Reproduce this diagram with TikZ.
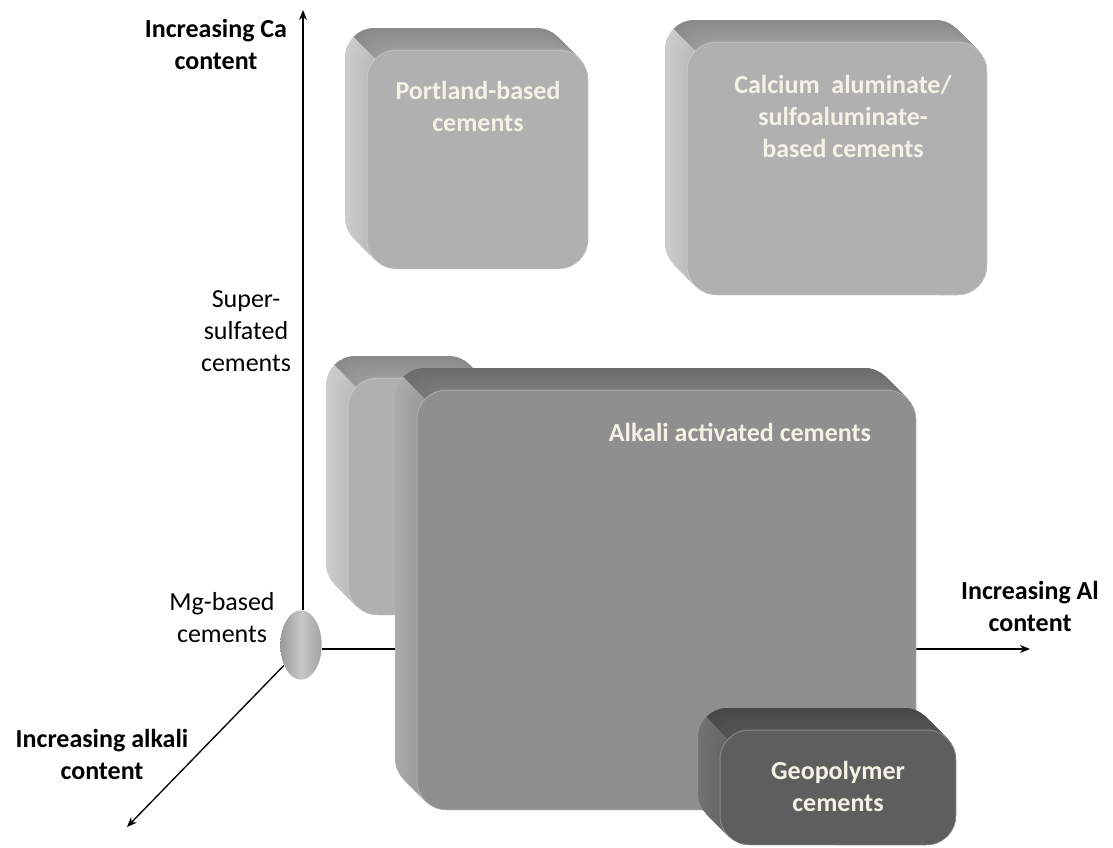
\documentclass[tikz,border=0pt]{standalone}
\usepackage{fontspec}
\setmainfont{Carlito}
\usetikzlibrary{arrows.meta,backgrounds,shapes.geometric}

% face / side colours of the blocks
\definecolor{portF}{HTML}{B0B0B0}
\definecolor{portL}{HTML}{CDCDCD}
\definecolor{portLl}{HTML}{BCBCBC}
\definecolor{portT}{HTML}{8A8A8A}
\definecolor{portTl}{HTML}{9C9C9C}
\definecolor{alkF}{HTML}{8F8F8F}
\definecolor{alkL}{HTML}{ABABAB}
\definecolor{alkLl}{HTML}{9B9B9B}
\definecolor{alkT}{HTML}{6C6C6C}
\definecolor{alkTl}{HTML}{7A7A7A}
\definecolor{geoF}{HTML}{5E5E5E}
\definecolor{geoL}{HTML}{727272}
\definecolor{geoLl}{HTML}{666666}
\definecolor{geoT}{HTML}{484848}
\definecolor{geoTl}{HTML}{545454}
\definecolor{labeltext}{HTML}{F4F2E6}

\tikzset{every picture/.style={line width=0.75pt}}
\tikzset{
  axis/.style={draw=black, line width=1pt, -{Stealth[length=7.5pt,width=6pt]}},
  axislabel/.style={font=\bfseries\fontsize{19.5}{24}\selectfont, align=center, inner sep=0pt},
  sidelabel/.style={font=\fontsize{19.5}{24}\selectfont, align=center, inner sep=0pt},
  boxlabel/.style={font=\bfseries\fontsize{19.5}{24}\selectfont, text=labeltext, align=center, inner sep=0pt},
  blockcorner/.style={rounded corners=22pt}
}

% bevelled block: back corner (#1,#2), (#3,#4), colour set #5
\newcommand{\cemblock}[5]{%
  \foreach \s [evaluate=\s as \p using int(100-\s*100/22)] in {0,...,22}{%
    \fill[#5L!\p!#5Ll, blockcorner] ({#1+\s},{#2+\s}) rectangle ({#3+\s},{#4+\s});}
  \begin{scope}
    \clip ({#1-60},{#2-60}) -- ({#1+1000},{#2+1000}) -- ({#1+1000},{#2-1000}) -- ({#1-60},{#2-1000}) -- cycle;
    \foreach \s [evaluate=\s as \p using int(100-\s*100/22)] in {0,...,22}{%
      \fill[#5T!\p!#5Tl, blockcorner] ({#1+\s},{#2+\s}) rectangle ({#3+\s},{#4+\s});}
  \end{scope}
  \fill[#5F, blockcorner] ({#1+22},{#2+22}) rectangle ({#3+22},{#4+22});
  \draw[white, draw opacity=0.25, blockcorner] ({#1+22},{#2+22}) rectangle ({#3+22},{#4+22});
}

\begin{document}
\begin{tikzpicture}[x=0.75pt,y=0.75pt,yscale=-1,xscale=1]
\useasboundingbox (0,0) rectangle (1113,847);

%Shape: Portland block
\cemblock{345}{28}{566}{247}{port}
%Shape: Calcium aluminate block
\cemblock{665}{20}{965}{273}{port}
%Shape: Super-sulfated block
\cemblock{326}{356}{478}{593}{port}
%Shape: Alkali activated block
\cemblock{395}{368}{894}{788}{alk}
%Shape: Geopolymer block
\cemblock{698}{708}{934}{823}{geo}

%Shape: Mg-based ellipse
\node (mg) [ellipse, minimum width=31pt, minimum height=52pt, inner sep=0pt,
  left color=black!40, right color=black!36, middle color=black!22] at (301,645) {};

% Text Node
\node (portland) [boxlabel] at (478,106) {Portland-based\\cements};
% Text Node
\node (calcium) [boxlabel] at (843,116) {Calcium\ \ aluminate/\\sulfoaluminate-\\based cements};
% Text Node
\node (alkali) [boxlabel] at (740,432) {Alkali activated cements};
% Text Node
\node (geopolymer) [boxlabel] at (838,786) {Geopolymer\\cements};
% Text Node
\node (calabel) [axislabel] at (216,44) {Increasing Ca\\content};
% Text Node
\node (allabel) [axislabel] at (1030,606) {Increasing Al\\content};
% Text Node
\node (alklabel) [axislabel] at (102,754) {Increasing alkali\\content};
% Text Node
\node (supersulf) [sidelabel] at (246,331) {Super-\\sulfated\\cements};
% Text Node
\node (mglabel) [sidelabel] at (222,618) {Mg-based\\cements};

%Axes
\coordinate (catip) at (303,10);
\coordinate (altip) at (1030,649);
\coordinate (alktip) at (127,827);
\begin{pgfonlayer}{background}
\draw[axis] (mg.north -| catip) -- (catip);
\draw[axis] (mg.east |- altip) -- (altip);
\draw[axis] (mg.230) -- (alktip);
\end{pgfonlayer}

\end{tikzpicture}
\end{document}
